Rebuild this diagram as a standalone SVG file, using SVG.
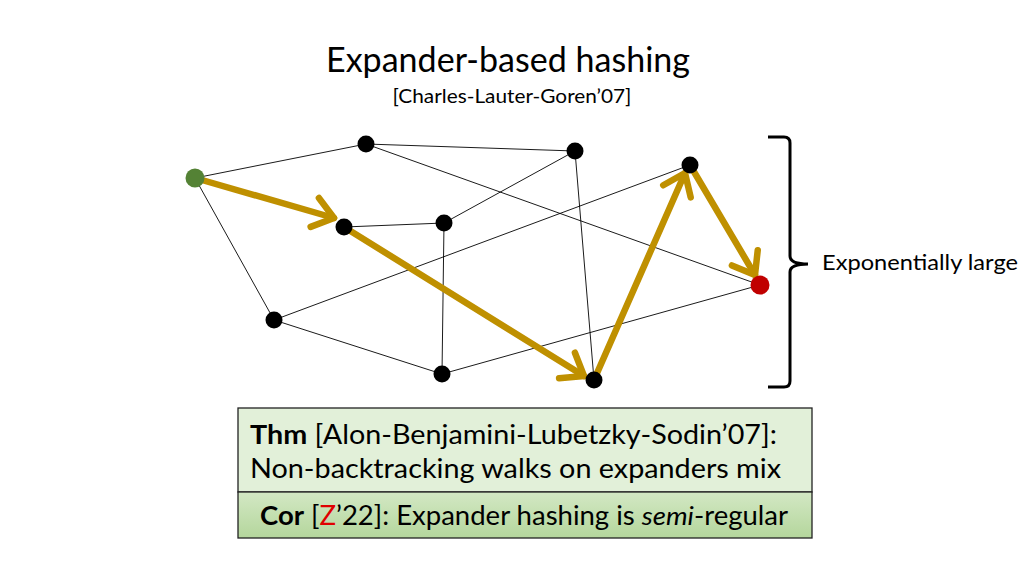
<svg xmlns="http://www.w3.org/2000/svg" width="1024" height="576" viewBox="0 0 1024 576">
<style>
text{font-family:Lato,"Open Sans","Liberation Sans",sans-serif;fill:#000}
.e{stroke:#000;stroke-width:0.9;fill:none}
.w{stroke:#BF9000;stroke-width:6.5;fill:none;stroke-linecap:round}
.n{fill:#000}
</style>
<defs>
<marker id="ch" markerUnits="userSpaceOnUse" markerWidth="44" markerHeight="44" viewBox="-32 -22 44 44" refX="0" refY="0" orient="auto">
<path d="M-20,-15 L0,0 L-20,15" fill="none" stroke="#BF9000" stroke-width="6.5" stroke-linecap="round" stroke-linejoin="round"/>
</marker>
<linearGradient id="cg" x1="0" y1="0" x2="0" y2="1">
<stop offset="0" stop-color="#D3E8C4"/>
<stop offset="1" stop-color="#B4D69C"/>
</linearGradient>
</defs>
<rect width="1024" height="576" fill="#fff"/>
<g id="title">
<text x="508" y="72" font-size="34" text-anchor="middle" textLength="364" lengthAdjust="spacingAndGlyphs">Expander-based hashing</text>
<text x="512" y="103" font-size="20" text-anchor="middle" textLength="239" lengthAdjust="spacingAndGlyphs">[Charles-Lauter-Goren’07]</text>
</g>
<g id="connectors">
<line class="e" x1="195" y1="178" x2="366" y2="144"/>
<line class="e" x1="195" y1="178" x2="274" y2="320"/>
<line class="e" x1="366" y1="144" x2="575" y2="151"/>
<line class="e" x1="366" y1="144" x2="760" y2="285"/>
<line class="e" x1="575" y1="151" x2="444" y2="223"/>
<line class="e" x1="575" y1="151" x2="594" y2="380"/>
<line class="e" x1="344" y1="227" x2="444" y2="223"/>
<line class="e" x1="444" y1="223" x2="442" y2="374"/>
<line class="e" x1="274" y1="320" x2="690" y2="165"/>
<line class="e" x1="274" y1="320" x2="442" y2="374"/>
<line class="e" x1="442" y1="374" x2="760" y2="285"/>
<line class="w" x1="195" y1="178" x2="334" y2="218" marker-end="url(#ch)"/>
<line class="w" x1="344" y1="227" x2="584" y2="376" marker-end="url(#ch)"/>
<line class="w" x1="594" y1="380" x2="685" y2="173" marker-end="url(#ch)"/>
<line class="w" x1="690" y1="165" x2="755" y2="275" marker-end="url(#ch)"/>
</g>
<g id="nG"><circle cx="195" cy="178" r="9.5" fill="#548235"/></g>
<g id="nA"><circle class="n" cx="366" cy="144" r="8.5"/></g>
<g id="nB"><circle class="n" cx="575" cy="151" r="8.5"/></g>
<g id="nC"><circle class="n" cx="690" cy="165" r="8.5"/></g>
<g id="nD"><circle class="n" cx="344" cy="227" r="8.5"/></g>
<g id="nE"><circle class="n" cx="444" cy="223" r="8.5"/></g>
<g id="nF"><circle class="n" cx="274" cy="320" r="8.5"/></g>
<g id="nH"><circle class="n" cx="442" cy="374" r="8.5"/></g>
<g id="nI"><circle class="n" cx="594" cy="380" r="8.5"/></g>
<g id="nR"><circle cx="760" cy="285" r="9.5" fill="#C00000"/></g>
<g id="brace">
<path d="M768,137 L784,137 Q790,137 790,143 L790,256 Q790,264 808,264 Q790,264 790,272 L790,381 Q790,387 784,387 L768,387" fill="none" stroke="#000" stroke-width="3"/>
<text x="822" y="270" font-size="22" textLength="196" lengthAdjust="spacingAndGlyphs">Exponentially large</text>
</g>
<g id="thm">
<rect x="238" y="408" width="574" height="84" fill="#E2F0D9" stroke="#222" stroke-width="1.3"/>
<text x="250" y="444" font-size="26" textLength="527" lengthAdjust="spacingAndGlyphs"><tspan font-weight="bold">Thm</tspan> [Alon-Benjamini-Lubetzky-Sodin’07]:</text>
<text x="250" y="478" font-size="26" textLength="531" lengthAdjust="spacingAndGlyphs">Non-backtracking walks on expanders mix</text>
</g>
<g id="cor">
<rect x="238" y="492" width="574" height="46" fill="url(#cg)" stroke="#222" stroke-width="1.3"/>
<text x="260" y="525" font-size="26" textLength="528" lengthAdjust="spacingAndGlyphs"><tspan font-weight="bold">Cor</tspan> [<tspan fill="#E00000">Z</tspan>’22]: Expander hashing is <tspan font-style="italic">semi</tspan>-regular</text>
</g>
</svg>
